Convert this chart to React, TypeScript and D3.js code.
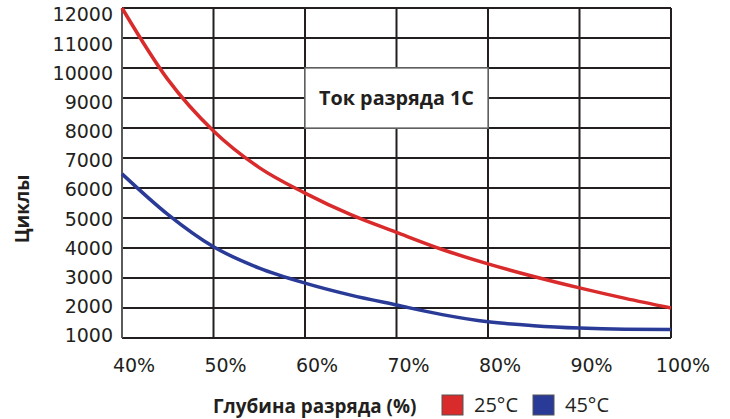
import React from 'react';
import * as d3 from 'd3';

const depth = [40, 45, 50, 55, 60, 65, 70, 75, 80, 85, 90, 95, 100];
const cycles25 = [12000, 9620, 7900, 6680, 5830, 5110, 4520, 3950, 3470, 3050, 2670, 2320, 2000];
const cycles45 = [6470, 5120, 4040, 3330, 2830, 2430, 2100, 1780, 1540, 1410, 1330, 1290, 1280];
const xTicks = [40, 50, 60, 70, 80, 90, 100];
const yTicks = [1000, 2000, 3000, 4000, 5000, 6000, 7000, 8000, 9000, 10000, 11000, 12000];
const seriesNames = ['25°C', '45°C'];
const colors = ['#d92b2b', '#2a3a97'];
const titleText = 'Ток разряда 1С';

const width = 730;
const height = 419;
const margin = { top: 8, right: 59, bottom: 81, left: 122 };

const App = () => {
    const x = d3
        .scaleLinear()
        .domain([40, 100])
        .range([margin.left, width - margin.right]);
    const y = d3
        .scaleLinear()
        .domain([1000, 12000])
        .range([height - margin.bottom, margin.top]);
    // tick labels sit on a slightly tighter spacing than the grid
    const yLabel = d3.scaleLinear().domain([1000, 12000]).range([335.5, 14.5]);

    const line = d3
        .line<number>()
        .x((_, i) => x(depth[i]))
        .y((d) => y(d))
        .curve(d3.curveMonotoneX);

    const ink = '#231f20';
    const tickFont = 'DejaVu Sans, sans-serif';
    const labelFont = '"Open Sans", sans-serif';

    return (
        <svg width={width} height={height} style={{ position: 'absolute', left: 0, top: 0 }}>
            <rect width={width} height={height} fill="#fff" />

            {/* grid */}
            {yTicks.map((t) => (
                <line key={'h' + t} x1={x(40)} x2={x(100)} y1={y(t)} y2={y(t)} stroke={ink} strokeWidth={2} />
            ))}
            {xTicks.slice(1).map((t) => (
                <line key={'v' + t} x1={x(t)} x2={x(t)} y1={y(12000)} y2={y(1000)} stroke={ink} strokeWidth={2} />
            ))}
            <line x1={x(40)} x2={x(40)} y1={y(12000)} y2={y(1000)} stroke="#5a5a5a" strokeWidth={2} />

            {/* title box */}
            <rect
                x={x(60)}
                y={y(10000)}
                width={x(80) - x(60)}
                height={y(8000) - y(10000)}
                fill="#fff"
                stroke="#777"
                strokeWidth={1.5}
            />
            <text
                x={(x(60) + x(80)) / 2}
                y={y(9000) + 7}
                textAnchor="middle"
                fontFamily={labelFont}
                fontWeight={700}
                fontSize={19.8}
                fill={ink}
            >
                {titleText}
            </text>

            {/* curves */}
            <path d={line(cycles45) || ''} fill="none" stroke={colors[1]} strokeWidth={3.5} />
            <path d={line(cycles25) || ''} fill="none" stroke={colors[0]} strokeWidth={3.5} />

            {/* y ticks */}
            {yTicks.map((t) => (
                <text key={'yl' + t} x={113} y={yLabel(t)} dy="0.36em" textAnchor="end" fontFamily={tickFont} fontSize={19} fill={ink}>
                    {t}
                </text>
            ))}
            {/* x ticks */}
            {xTicks.map((t) => (
                <text key={'xl' + t} x={x(t) + 12} y={372} textAnchor="middle" fontFamily={tickFont} fontSize={19} fill={ink}>
                    {t}%
                </text>
            ))}

            {/* axis titles */}
            <text
                transform={`translate(29, 209) rotate(-90)`}
                textAnchor="middle"
                fontFamily={labelFont}
                fontWeight={700}
                fontSize={19}
                fill={ink}
            >
                Циклы
            </text>
            <text x={213} y={413} fontFamily={labelFont} fontWeight={700} fontSize={18.9} fill={ink}>
                Глубина разряда (%)
            </text>

            {/* legend */}
            {seriesNames.map((name, i) => (
                <g key={name} transform={`translate(${442 + i * 91}, 395)`}>
                    <rect x={0} y={0} width={21} height={20} fill={colors[i]} stroke="#555" strokeWidth={1} />
                    <text x={32} y={17} fontFamily={labelFont} fontSize={20} fill={ink}>
                        {name}
                    </text>
                </g>
            ))}
        </svg>
    );
};

export default App;
